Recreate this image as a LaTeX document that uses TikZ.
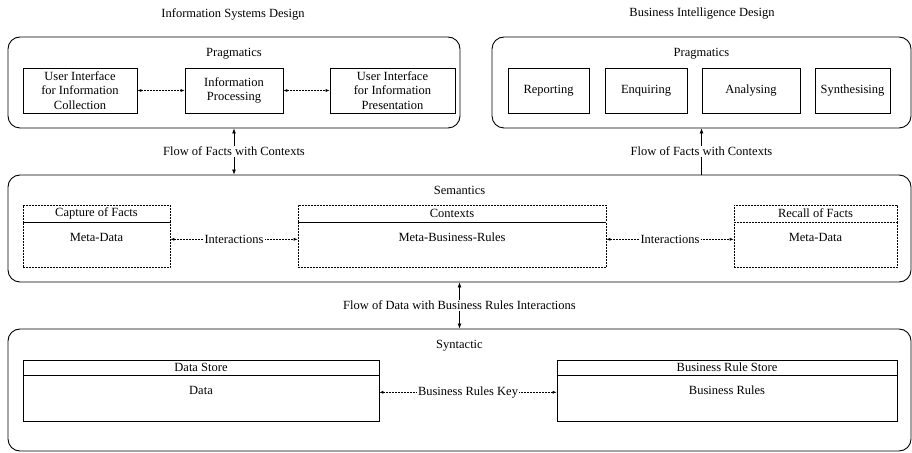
\documentclass[tikz,border=0pt]{standalone}
\usepackage{fontspec}
\setmainfont{Liberation Serif}
\usetikzlibrary{positioning, arrows.meta}

\begin{document}
\begin{tikzpicture}[x=1pt, y=1pt,
	every node/.style={font=\fontsize{12.5}{14.5}\selectfont},
	layerBox/.style={draw, rounded corners=12pt, line width=0.9pt, inner sep=0pt},
	taskBox/.style={draw, line width=0.7pt, minimum height=45pt, align=center, inner sep=0pt},
	headBox/.style={draw, line width=0.6pt, inner sep=0pt},
	bodyBox/.style={draw, line width=0.6pt, inner ysep=0pt, text height=19pt, text depth=26pt},
	dashedBox/.style={dash pattern=on 2pt off 1pt},
	linkArrow/.style={{Latex[length=4pt,width=3pt]}-{Latex[length=4pt,width=3pt]}, dash pattern=on 2pt off 1pt, line width=0.6pt},
	flowArrow/.style={line width=0.7pt},
	gapLabel/.style={fill=white, inner sep=1pt}]

	\useasboundingbox (0,0) rectangle (912,452);

% Draw layers.

	%pragmatics
	\node[layerBox, minimum width=452pt, minimum height=91pt] (ISprag) at (234, 369.5) {};
	\node[layerBox, minimum width=419pt, minimum height=91pt] (BIprag) at (701.5, 369.5) {};

	%semantics and syntactic
	\node[layerBox, minimum width=903pt, minimum height=107pt] (semantics) at (459.5, 223.5) {};
	\node[layerBox, minimum width=903pt, minimum height=122pt] (syntactic) at (459.5, 62) {};

% Draw titles.

	\node (ISdesign) at (233, 438) {Information Systems Design};
	\node (BIdesign) at (702, 438) {Business Intelligence Design};
	\node[below=8pt of ISprag.north] (ISpragTitle) {Pragmatics};
	\node[below=8pt of BIprag.north] (BIpragTitle) {Pragmatics};
	\node[below=8pt of semantics.north] (semanticsTitle) {Semantics};
	\node[below=8pt of syntactic.north] (syntacticTitle) {Syntactic};

% Draw pragmatics boxes.

	%information systems
	\node[taskBox, minimum width=114pt] (UIcollect) at (80, 361.5) {User Interface\\for Information\\Collection};
	\node[taskBox, minimum width=98pt] (infoProc) at (234, 361.5) {Information\\Processing};
	\node[taskBox, minimum width=125pt] (UIpresent) at (392.5, 361.5) {User Interface\\for Information\\Presentation};

	%business intelligence
	\node[taskBox, minimum width=81pt] (reporting) at (548.5, 361.5) {Reporting};
	\node[taskBox, minimum width=82pt] (enquiring) at (646, 361.5) {Enquiring};
	\node[taskBox, minimum width=98pt] (analysing) at (751, 361.5) {Analysing};
	\node[taskBox, minimum width=75pt] (synthesising) at (852.5, 361.5) {Synthesising};

% Draw semantics boxes.

	\node[headBox, dashedBox, minimum width=147pt, minimum height=17pt] (captureHead) at (96.5, 238.5) {Capture of Facts};
	\node[bodyBox, dashedBox, minimum width=147pt, below=0pt of captureHead] (captureBody) {Meta-Data};

	\node[headBox, dashedBox, minimum width=308pt, minimum height=17pt] (contextsHead) at (452, 238.5) {Contexts};
	\node[bodyBox, dashedBox, minimum width=308pt, below=0pt of contextsHead] (contextsBody) {Meta-Business-Rules};

	\node[headBox, dashedBox, minimum width=163pt, minimum height=17pt] (recallHead) at (815.5, 238.5) {Recall of Facts};
	\node[bodyBox, dashedBox, minimum width=163pt, below=0pt of recallHead] (recallBody) {Meta-Data};

% Draw syntactic boxes.

	\node[headBox, minimum width=356pt, minimum height=15pt] (dataHead) at (201, 84.5) {Data Store};
	\node[bodyBox, text depth=27pt, minimum width=356pt, below=0pt of dataHead] (dataBody) {Data};

	\node[headBox, minimum width=340pt, minimum height=15pt] (ruleHead) at (727, 84.5) {Business Rule Store};
	\node[bodyBox, text depth=27pt, minimum width=340pt, below=0pt of ruleHead] (ruleBody) {Business Rules};

% Draw links.

	\draw[linkArrow] (UIcollect) -- (infoProc);
	\draw[linkArrow] (infoProc) -- (UIpresent);

	\draw[linkArrow] (captureBody.mid east) -- node[gapLabel] (captureLink) {Interactions} (contextsBody.mid west);
	\draw[linkArrow] (contextsBody.mid east) -- node[gapLabel] (recallLink) {Interactions} (recallBody.mid west);

	\draw[linkArrow] (dataBody.mid east) -- node[gapLabel] (keyLink) {Business Rules Key} (ruleBody.mid west);

% Draw flows between layers.

	\draw[flowArrow, {Latex[length=5pt,width=4pt]}-{Latex[length=5pt,width=4pt]}] (ISprag.south) -- node[gapLabel] (ISflow) {Flow of Facts with Contexts} (ISprag.south |- semantics.north);
	\draw[flowArrow, -{Latex[length=5pt,width=4pt]}] (BIprag.south |- semantics.north) -- node[gapLabel] (BIflow) {Flow of Facts with Contexts} (BIprag.south);
	\draw[flowArrow, {Latex[length=5pt,width=4pt]}-{Latex[length=5pt,width=4pt]}] (semantics.south) -- node[gapLabel] (dataFlow) {Flow of Data with Business Rules Interactions} (syntactic.north);

\end{tikzpicture}
\end{document}
